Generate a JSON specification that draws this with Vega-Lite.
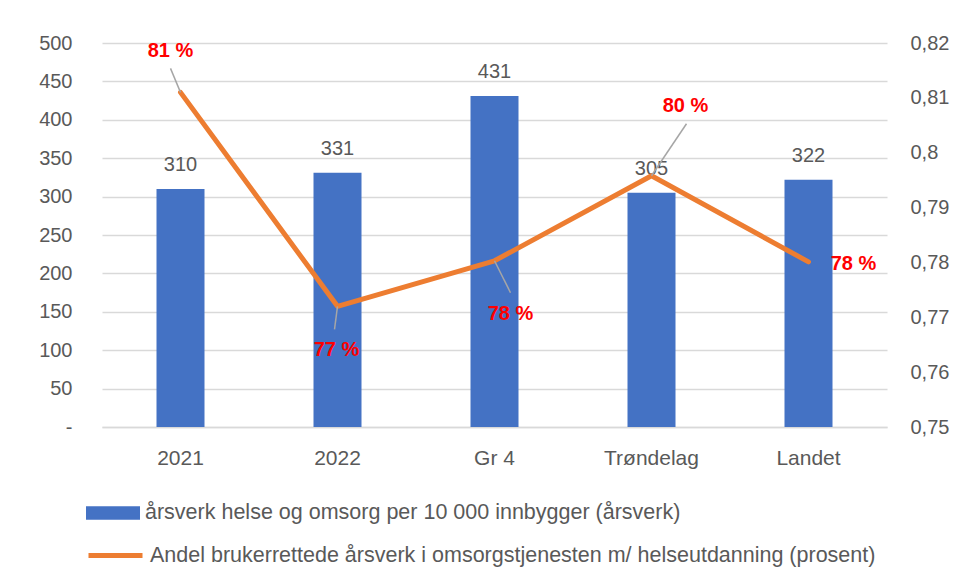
{
  "$schema": "https://vega.github.io/schema/vega-lite/v6.json",
  "width": 785,
  "height": 384,
  "autosize": {"type": "none"},
  "padding": {"left": 102, "top": 43, "right": 70, "bottom": 156},
  "background": "white",
  "config": {
    "view": {"stroke": null},
    "font": "Liberation Sans",
    "locale": {"number": {"decimal": ",", "thousands": " ", "grouping": [3], "currency": ["", " kr"], "percent": " %"}},
    "axis": {"labelColor": "#595959", "labelFontSize": 20, "labelFont": "Liberation Sans", "domain": false, "ticks": false, "title": null},
    "legend": {"padding": 0, "labelColor": "#595959", "labelFontSize": 21.5, "labelFont": "Liberation Sans", "labelLimit": 0, "labelOffset": 5, "title": null}
  },
  "data": {
    "values": [
      {"kategori": "2021", "arsverk": 310, "andel": 0.811},
      {"kategori": "2022", "arsverk": 331, "andel": 0.772},
      {"kategori": "Gr 4", "arsverk": 431, "andel": 0.7803},
      {"kategori": "Trøndelag", "arsverk": 305, "andel": 0.7958},
      {"kategori": "Landet", "arsverk": 322, "andel": 0.7801}
    ]
  },
  "encoding": {
    "x": {
      "field": "kategori", "type": "nominal", "sort": null,
      "scale": {"paddingInner": 0, "paddingOuter": 0},
      "axis": {"labelAngle": 0, "labelPadding": 20, "labelFontSize": 21, "domain": true, "domainColor": "#d9d9d9", "domainWidth": 1.5}
    }
  },
  "layer": [
    {
      "encoding": {
        "y": {
          "field": "arsverk", "type": "quantitative",
          "scale": {"domain": [0, 500]},
          "axis": {
            "values": [0, 50, 100, 150, 200, 250, 300, 350, 400, 450, 500],
            "grid": true, "gridColor": "#d9d9d9", "gridWidth": 1.5,
            "labelPadding": 30,
            "labelExpr": "datum.value === 0 ? '-' : datum.label"
          }
        }
      },
      "layer": [
        {
          "mark": {"type": "bar", "size": 48},
          "encoding": {
            "fill": {
              "datum": "årsverk helse og omsorg per 10 000 innbygger (årsverk)",
              "scale": {"range": ["#4472c4"]},
              "legend": {
                "orient": "none", "legendX": -16, "legendY": 443,
                "symbolType": "M-1,-0.25L1,-0.25L1,0.25L-1,0.25Z",
                "symbolSize": 2916, "symbolStrokeWidth": 0
              }
            }
          }
        },
        {
          "mark": {"type": "text", "dy": -18, "baseline": "alphabetic", "fontSize": 20, "color": "#595959"},
          "encoding": {"text": {"field": "arsverk", "type": "quantitative"}}
        }
      ]
    },
    {
      "encoding": {
        "y": {
          "field": "andel", "type": "quantitative",
          "scale": {"domain": [0.75, 0.82], "zero": false},
          "axis": {
            "orient": "right",
            "values": [0.75, 0.76, 0.77, 0.78, 0.79, 0.8, 0.81, 0.82],
            "format": "~g", "grid": false, "labelPadding": 23
          }
        }
      },
      "layer": [
        {
          "mark": {"type": "line", "strokeWidth": 5, "strokeCap": "round", "strokeJoin": "round"},
          "encoding": {
            "stroke": {
              "datum": "Andel brukerrettede årsverk i omsorgstjenesten m/ helseutdanning (prosent)",
              "scale": {"range": ["#ed7d31"]},
              "legend": {
                "orient": "none", "legendX": -16, "legendY": 483,
                "symbolType": "stroke", "symbolSize": 2916, "symbolStrokeWidth": 5
              }
            }
          }
        },
        {
          "transform": [{"filter": "datum.kategori == '2021'"}],
          "mark": {"type": "rule", "color": "#a6a6a6", "strokeWidth": 1.5, "x2Offset": -10, "y2Offset": -24},
          "encoding": {"x2": {"field": "kategori"}, "y2": {"field": "andel"}}
        },
        {
          "transform": [{"filter": "datum.kategori == '2022'"}],
          "mark": {"type": "rule", "color": "#a6a6a6", "strokeWidth": 1.5, "x2Offset": -3, "y2Offset": 23},
          "encoding": {"x2": {"field": "kategori"}, "y2": {"field": "andel"}}
        },
        {
          "transform": [{"filter": "datum.kategori == 'Gr 4'"}],
          "mark": {"type": "rule", "color": "#a6a6a6", "strokeWidth": 1.5, "x2Offset": 16, "y2Offset": 32},
          "encoding": {"x2": {"field": "kategori"}, "y2": {"field": "andel"}}
        },
        {
          "transform": [{"filter": "datum.kategori == 'Trøndelag'"}],
          "mark": {"type": "rule", "color": "#a6a6a6", "strokeWidth": 1.5, "x2Offset": 35, "y2Offset": -52},
          "encoding": {"x2": {"field": "kategori"}, "y2": {"field": "andel"}}
        },
        {
          "transform": [{"filter": "datum.kategori == '2021'"}],
          "mark": {"type": "text", "dx": -10, "dy": -41, "color": "#ff0000", "fontWeight": "bold", "fontSize": 20, "baseline": "middle"},
          "encoding": {"text": {"field": "andel", "type": "quantitative", "format": ".0%"}}
        },
        {
          "transform": [{"filter": "datum.kategori == '2022'"}],
          "mark": {"type": "text", "dx": -1, "dy": 44, "color": "#ff0000", "fontWeight": "bold", "fontSize": 20, "baseline": "middle"},
          "encoding": {"text": {"field": "andel", "type": "quantitative", "format": ".0%"}}
        },
        {
          "transform": [{"filter": "datum.kategori == 'Gr 4'"}],
          "mark": {"type": "text", "dx": 16, "dy": 53, "color": "#ff0000", "fontWeight": "bold", "fontSize": 20, "baseline": "middle"},
          "encoding": {"text": {"field": "andel", "type": "quantitative", "format": ".0%"}}
        },
        {
          "transform": [{"filter": "datum.kategori == 'Trøndelag'"}],
          "mark": {"type": "text", "dx": 34, "dy": -70, "color": "#ff0000", "fontWeight": "bold", "fontSize": 20, "baseline": "middle"},
          "encoding": {"text": {"field": "andel", "type": "quantitative", "format": ".0%"}}
        },
        {
          "transform": [{"filter": "datum.kategori == 'Landet'"}],
          "mark": {"type": "text", "dx": 45, "dy": 2, "color": "#ff0000", "fontWeight": "bold", "fontSize": 20, "baseline": "middle"},
          "encoding": {"text": {"field": "andel", "type": "quantitative", "format": ".0%"}}
        }
      ]
    }
  ],
  "resolve": {"scale": {"y": "independent"}}
}
